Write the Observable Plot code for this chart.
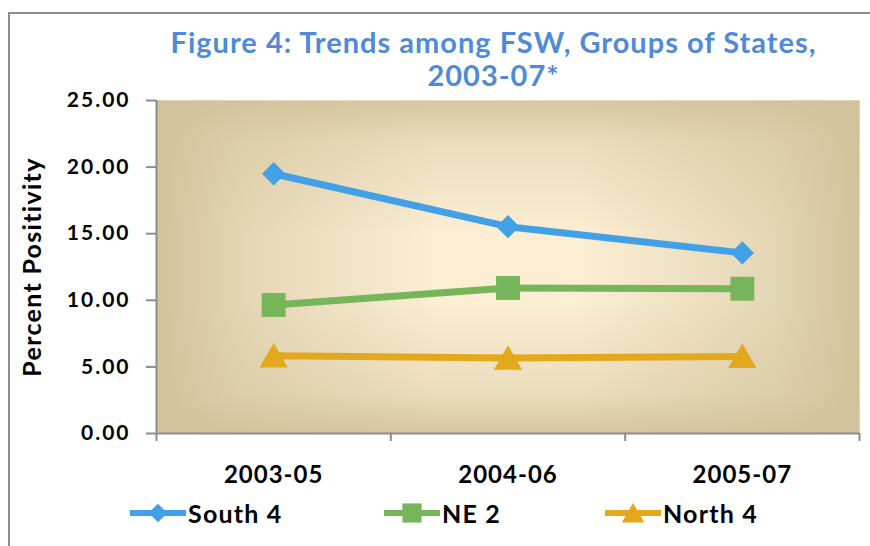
<!DOCTYPE html>
<html>
<head>
<meta charset="utf-8">
<script src="https://cdn.jsdelivr.net/npm/d3@7"></script>
<script src="https://cdn.jsdelivr.net/npm/@observablehq/plot@0.6"></script>
<style>
  html, body { margin: 0; padding: 0; background: #fff; }
  #wrap { position: relative; width: 870px; height: 546px; overflow: hidden; font-family: Lato, "DejaVu Sans", sans-serif; }
  #border { position: absolute; left: 8px; top: 12px; width: 900px; height: 600px; border: 2px solid #8f8f8f; box-sizing: border-box; pointer-events: none; }
  #title { position: relative; height: 90px; box-sizing: border-box; padding-left: 117px; padding-top: 25px; text-align: center; color: #4f8ad6; font-weight: bold; font-size: 29px; line-height: 33px; letter-spacing: 1px; }
  #chart svg { display: block; }
  #chart svg [aria-label="y-axis tick label"] { letter-spacing: 2px; }
  #chart svg [aria-label="x-axis tick label"] { letter-spacing: 1px; }
  #chart svg .ylab { letter-spacing: 1.3px; }
  #legend { position: relative; height: 66px; }
  .item { position: absolute; top: 18px; display: flex; align-items: center; font-weight: bold; font-size: 25px; letter-spacing: 1.2px; color: #000; }
  .item svg { display: block; margin-right: 2px; }
</style>
</head>
<body>
<div id="wrap">
  <div id="border"></div>
  <div id="title"></div>
  <div id="chart"></div>
  <div id="legend"></div>
</div>
<script>
const titleLines = ["Figure 4: Trends among FSW, Groups of States,", "2003-07*"];
const yLabel = "Percent Positivity";
const categories = ["2003-05", "2004-06", "2005-07"];
const seriesNames = ["South 4", "NE 2", "North 4"];
const south4 = [19.5, 15.53, 13.56];
const ne2 = [9.65, 10.93, 10.87];
const north4 = [5.84, 5.67, 5.79];
const yTicks = [0, 5, 10, 15, 20, 25];

// styles
const colors = ["#41a0e6", "#77b55a", "#e4a81c"];
const symbols = ["diamond2", "square", "triangle"];
const radii = [10.5, 13.5, 10.5];
const legendLeft = [130, 384, 605];

const seriesValues = [south4, ne2, north4];
const data = [];
seriesNames.forEach((s, k) => categories.forEach((c, i) => data.push({series: s, cat: c, pos: i + 0.5, value: seriesValues[k][i]})));

document.getElementById("title").innerHTML = titleLines.map(t => `<div>${t}</div>`).join("");

const axisGray = "#8c8c8c";
const marks = [
  Plot.frame({fill: "#fbeed3"}),
  Plot.frame({fill: "url(#gradH)"}),
  Plot.frame({fill: "url(#gradV)"}),
  Plot.axisY(yTicks, {tickFormat: d => d.toFixed(2), tickSize: 10, tickPadding: 16, fontSize: 21, fontWeight: "bold", stroke: axisGray, strokeWidth: 2, fill: "#000", label: null}),
  Plot.text([yLabel], {frameAnchor: "left", textAnchor: "middle", dx: -124, rotate: -90, fontSize: 25, fontWeight: "bold", fill: "#000", lineAnchor: "middle", className: "ylab"}),
  Plot.axisX(d3.range(categories.length + 1), {tickFormat: () => "", tickSize: 8, stroke: axisGray, strokeWidth: 2, label: null}),
  Plot.axisX(categories.map((c, i) => i + 0.5), {tickFormat: d => categories[Math.round(d - 0.5)], tickSize: 0, tickPadding: 32, fontSize: 24, fontWeight: "bold", fill: "#000", label: null}),
  Plot.ruleX([0], {stroke: axisGray, strokeWidth: 2}),
  Plot.ruleY([0], {stroke: axisGray, strokeWidth: 2})
];
seriesNames.forEach((s, k) => {
  const rows = data.filter(d => d.series === s);
  marks.push(Plot.line(rows, {x: "pos", y: "value", stroke: colors[k], strokeWidth: 7, strokeLinejoin: "round"}));
  marks.push(Plot.dot(rows, {x: "pos", y: "value", symbol: () => symbols[k], r: radii[k], fill: colors[k], stroke: "none", dy: symbols[k] === "triangle" ? 3.5 : 0}));
});

const chart = Plot.plot({
  width: 870,
  height: 390,
  marginTop: 10,
  marginBottom: 47,
  marginLeft: 156,
  marginRight: 11,
  x: {domain: [0, categories.length], label: null},
  y: {domain: [0, 25], label: null},
  symbol: {type: "identity"},
  style: {fontFamily: "Lato, 'DejaVu Sans', sans-serif", overflow: "visible"},
  marks
});

const ns = "http://www.w3.org/2000/svg";
const defs = document.createElementNS(ns, "defs");
defs.innerHTML = `
  <linearGradient id="gradH" x1="0" y1="0" x2="1" y2="0">
    <stop offset="0" stop-color="#d2c29b" stop-opacity="1"/>
    <stop offset="0.12" stop-color="#d2c29b" stop-opacity="0.55"/>
    <stop offset="0.4" stop-color="#d2c29b" stop-opacity="0"/>
    <stop offset="0.6" stop-color="#d2c29b" stop-opacity="0"/>
    <stop offset="0.88" stop-color="#d2c29b" stop-opacity="0.55"/>
    <stop offset="1" stop-color="#d2c29b" stop-opacity="1"/>
  </linearGradient>
  <linearGradient id="gradV" x1="0" y1="0" x2="0" y2="1">
    <stop offset="0" stop-color="#d2c29b" stop-opacity="0.9"/>
    <stop offset="0.12" stop-color="#d2c29b" stop-opacity="0.4"/>
    <stop offset="0.4" stop-color="#d2c29b" stop-opacity="0"/>
    <stop offset="0.6" stop-color="#d2c29b" stop-opacity="0"/>
    <stop offset="0.88" stop-color="#d2c29b" stop-opacity="0.4"/>
    <stop offset="1" stop-color="#d2c29b" stop-opacity="0.9"/>
  </linearGradient>`;
chart.insertBefore(defs, chart.firstChild);
document.getElementById("chart").appendChild(chart);

// legend
const legend = document.getElementById("legend");
seriesNames.forEach((s, k) => {
  const item = document.createElement("div");
  item.className = "item";
  item.style.left = legendLeft[k] + "px";
  const size = Math.PI * (radii[k] * 0.8) ** 2;
  const symType = {diamond2: d3.symbolDiamond2, square: d3.symbolSquare, triangle: d3.symbolTriangle}[symbols[k]];
  const path = d3.symbol(symType, size)();
  const dy = symbols[k] === "triangle" ? 3 : 0;
  item.innerHTML = `<svg width="56" height="30"><line x1="1" x2="55" y1="15" y2="15" stroke="${colors[k]}" stroke-width="6" stroke-linecap="round"/><path d="${path}" transform="translate(28,${15 + dy})" fill="${colors[k]}"/></svg><span>${s}</span>`;
  legend.appendChild(item);
});
</script>
</body>
</html>
